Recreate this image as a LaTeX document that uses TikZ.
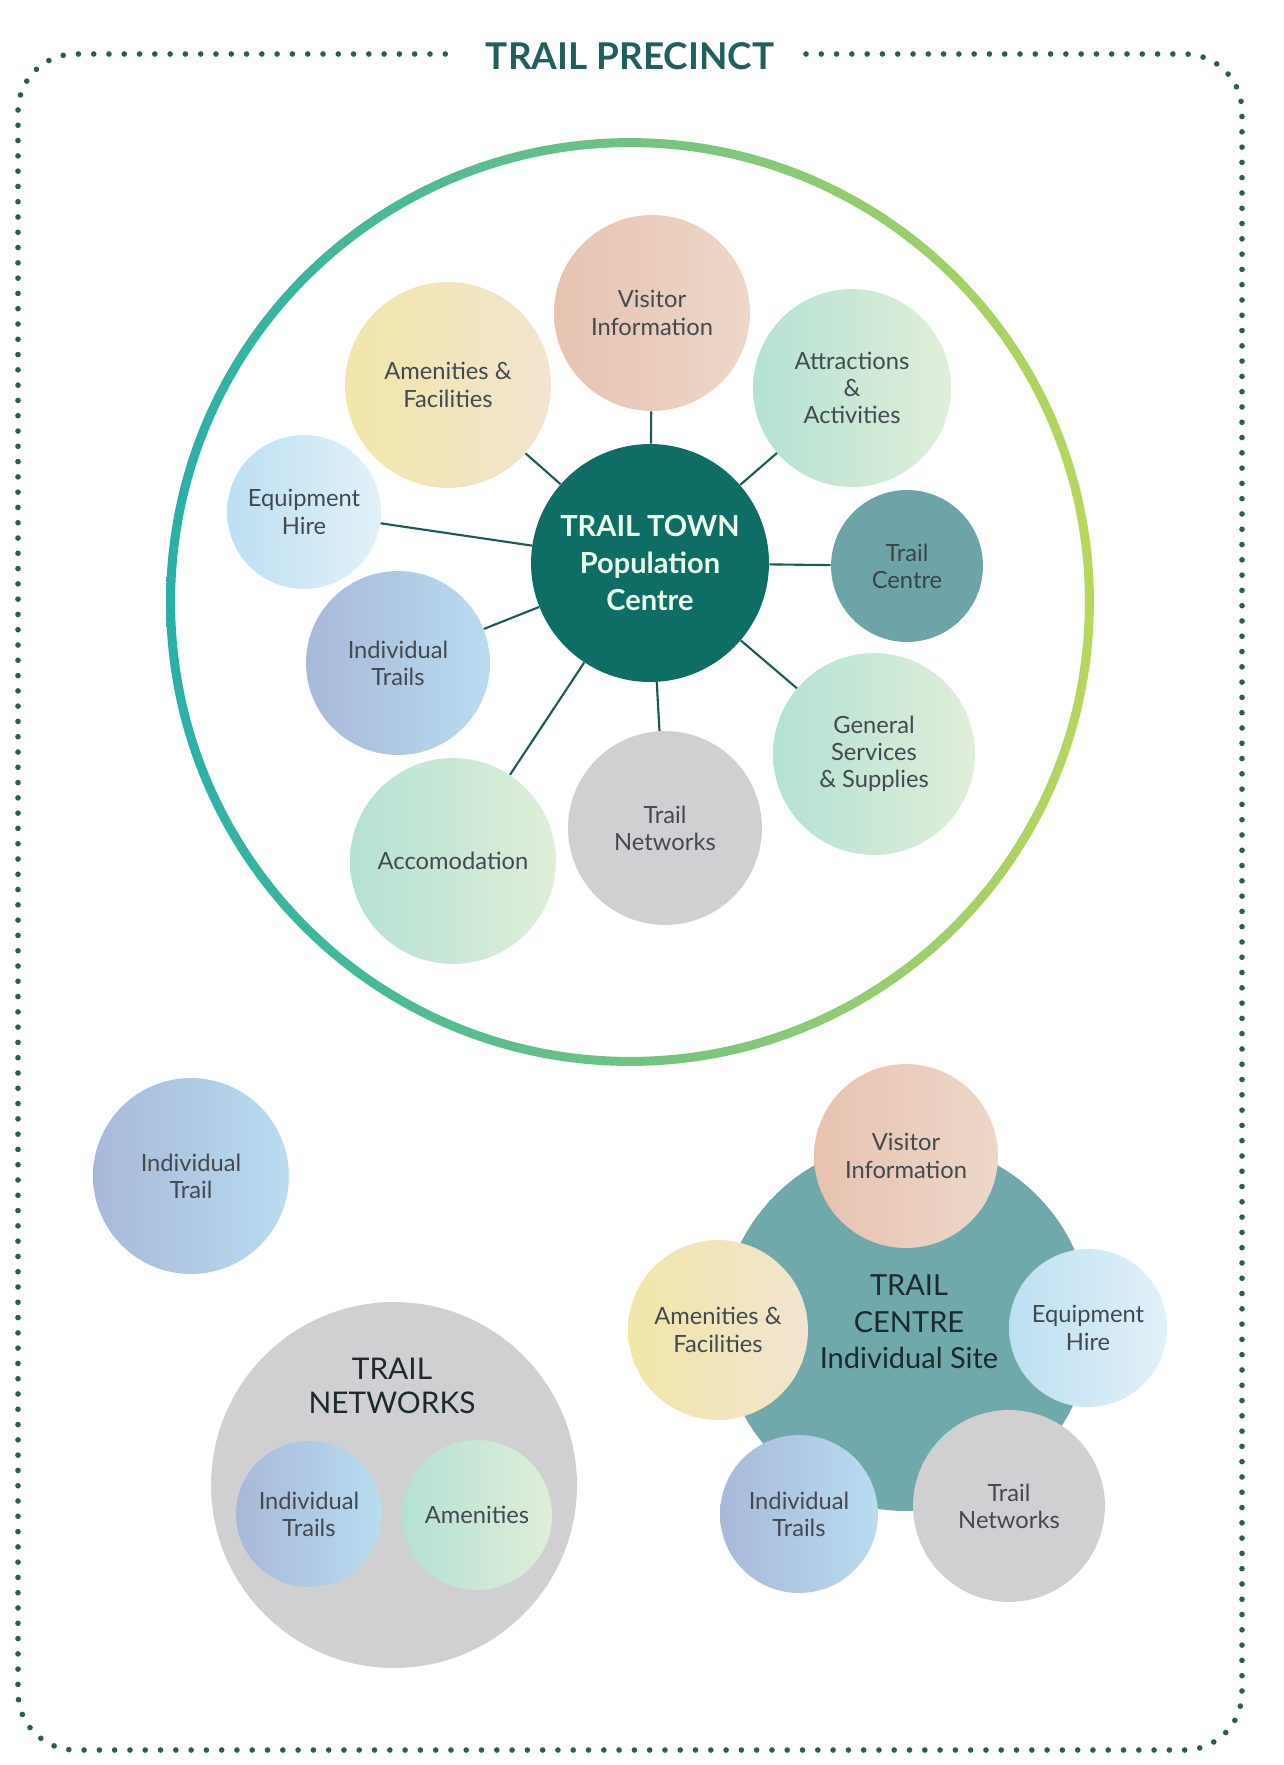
\documentclass[tikz,border=0pt]{standalone}
\usepackage{fontspec}
\setmainfont{Lato}
\usetikzlibrary{shapes,positioning,calc}
\definecolor{precinctteal}{RGB}{31,96,94}
\definecolor{dotteal}{RGB}{42,92,90}
\definecolor{towngreen}{RGB}{14,110,102}
\definecolor{spokegreen}{RGB}{28,88,86}
\definecolor{bubtext}{RGB}{66,74,80}
\definecolor{headdark}{RGB}{28,42,48}
\definecolor{ringA}{RGB}{40,176,168}
\definecolor{ringB}{RGB}{92,190,132}
\definecolor{ringC}{RGB}{184,214,92}
\definecolor{visitA}{RGB}{231,194,176}
\definecolor{visitB}{RGB}{237,215,201}
\definecolor{amenA}{RGB}{240,230,168}
\definecolor{amenB}{RGB}{242,228,208}
\definecolor{mintA}{RGB}{180,225,212}
\definecolor{mintB}{RGB}{224,238,216}
\definecolor{indvA}{RGB}{168,184,216}
\definecolor{indvB}{RGB}{184,220,240}
\definecolor{equipA}{RGB}{188,223,242}
\definecolor{equipB}{RGB}{226,241,248}
\definecolor{netgrey}{RGB}{208,208,211}
\definecolor{centreteal}{RGB}{108,164,168}
\definecolor{siteteal}{RGB}{111,169,171}

\begin{document}
\begin{tikzpicture}[x=0.02cm, y=-0.02cm,
    bub/.style={circle, inner sep=0pt, minimum size=#1*0.04cm, align=center, text=bubtext, font=\fontsize{13.5}{15.5}\selectfont},
    spoke/.style={draw=spokegreen, line width=1.2pt},
    precinctframe/.style={draw=dotteal, line width=3.2pt, line cap=round, dash pattern=on 0pt off 8.7pt, rounded corners=1.15cm}]
    \useasboundingbox (0,0) rectangle (1284,1765);

    \node[font=\fontsize{21}{24}\selectfont\bfseries, text=precinctteal] (precinct) at (630,56) {TRAIL PRECINCT};
    \coordinate (gapR) at (806,54);
    \coordinate (gapL) at (455,54);
    \draw[precinctframe] (gapR) -- (1242,54) -- (1242,1750) -- (18,1750) -- (18,54) -- (gapL);

    \path[left color=ringA, middle color=ringB, right color=ringC, even odd rule] (630,602) circle (9.28cm) (630,602) circle (9.1cm);

    \node[circle, fill=towngreen, minimum size=4.76cm, inner sep=0pt, align=center, text=white!92!green, font=\fontsize{16.5}{21}\selectfont\bfseries] (town) at (650,563) {TRAIL TOWN\\Population\\Centre};
    \node[bub=98, left color=visitA, right color=visitB] (visit) at (652,313) {Visitor\\Information};
    \node[bub=99, left color=mintA, right color=mintB] (attract) at (852,388) {Attractions\\\&\\Activities};
    \node[bub=76, fill=centreteal, text=bubtext!90!black] (tcentre) at (907,566) {Trail\\Centre};
    \node[bub=101, left color=mintA, right color=mintB] (services) at (874,754) {General\\Services\\\& Supplies};
    \node[bub=97, fill=netgrey] (tnet) at (665,828) {Trail\\Networks};
    \node[bub=103, left color=mintA, right color=mintB] (accom) at (453,861) {Accomodation};
    \node[bub=92, left color=indvA, right color=indvB] (indv) at (398,663) {Individual\\Trails};
    \node[bub=77, left color=equipA, right color=equipB] (equip) at (304,512) {Equipment\\Hire};
    \node[bub=103, left color=amenA, right color=amenB] (amen) at (448,385) {Amenities \&\\Facilities};
    \foreach \sat in {visit,attract,tcentre,services,tnet,accom,indv,equip,amen}
        \draw[spoke] (town) -- (\sat);

    \node[bub=98, left color=indvA, right color=indvB] (lonetrail) at (191,1176) {Individual\\Trail};

    \node[circle, fill=netgrey, minimum size=7.32cm] (netbig) at (394,1485) {};
    \node[align=center, text=headdark, font=\fontsize{17}{19.5}\selectfont] (nettitle) at (392,1386) {TRAIL\\NETWORKS};
    \node[bub=73, left color=indvA, right color=indvB] (netind) at (309,1514) {Individual\\Trails};
    \node[bub=75, left color=mintA, right color=mintB] (netamen) at (477,1515) {Amenities};

    \node[circle, fill=siteteal, minimum size=7.4cm] (sitebig) at (906,1326) {};
    \node[align=center, text=headdark, font=\fontsize{16.5}{20.7}\selectfont] (sitetitle) at (909,1322) {TRAIL\\CENTRE\\Individual Site};
    \node[bub=92, left color=visitA, right color=visitB] (svisit) at (906,1156) {Visitor\\Information};
    \node[bub=90, left color=amenA, right color=amenB] (samen) at (718,1330) {Amenities \&\\Facilities};
    \node[bub=79, left color=equipA, right color=equipB] (sequip) at (1088,1328) {Equipment\\Hire};
    \node[bub=79, left color=indvA, right color=indvB] (sind) at (799,1514) {Individual\\Trails};
    \node[bub=96, fill=netgrey] (snet) at (1009,1506) {Trail\\Networks};
\end{tikzpicture}
\end{document}
